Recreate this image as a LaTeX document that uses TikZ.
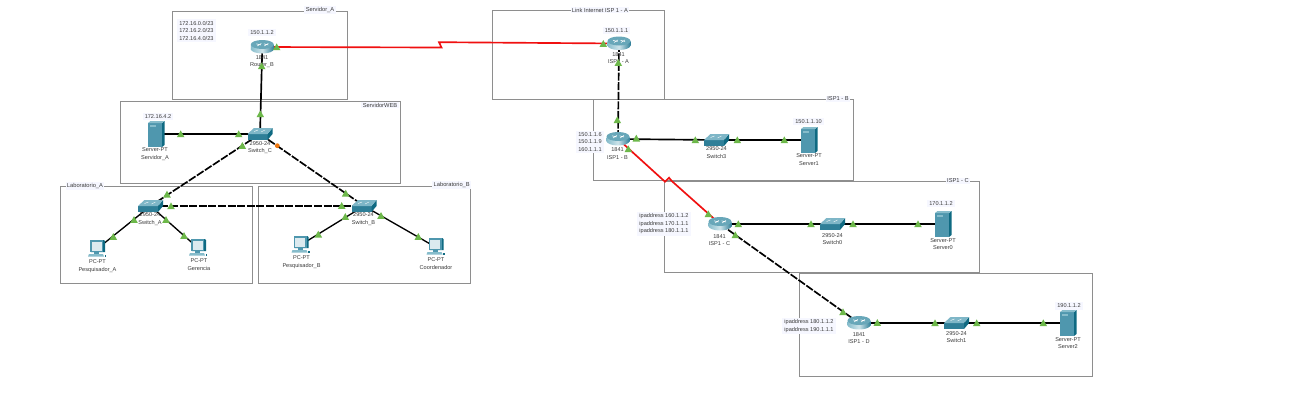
\documentclass[tikz,border=0pt]{standalone}
\usepackage{fontspec}
\setmainfont{Liberation Sans}
\definecolor{boxgray}{HTML}{8E8E8E}
\definecolor{lbl}{HTML}{F6F7FF}
\definecolor{txt}{HTML}{3A3A3A}
\definecolor{teal1}{HTML}{4F97AE}
\definecolor{teal2}{HTML}{0F6A82}
\definecolor{teal3}{HTML}{86BCCB}
\definecolor{teal4}{HTML}{2F7F98}
\definecolor{mkgreen}{HTML}{6DB84A}
\definecolor{orangem}{HTML}{F07810}
\definecolor{redl}{HTML}{F01010}
\tikzset{
  zone/.style={draw=boxgray,line width=.7pt,fill=none},
  zonelbl/.style={fill=lbl,inner sep=1pt,font=\fontsize{4.3}{5}\selectfont,text=txt},
  devtxt/.style={font=\fontsize{4.2}{5.6}\selectfont,text=txt,align=center,inner sep=0pt},
  iplbl/.style={fill=lbl,font=\fontsize{4.2}{5.6}\selectfont,text=txt,align=left,inner sep=1.5pt},
  dev/.style={inner sep=0pt,minimum size=0pt},
  wire/.style={line width=1.25pt,black},
  wired/.style={wire,dash pattern=on 6pt off 1.2pt},
  redw/.style={line width=1.25pt,redl},
  routerpic/.pic={
    \shade[left color=teal3,right color=teal4,middle color=white!60!teal3] (-11.5,-2) rectangle (11.5,2);
    \shade[left color=teal3,right color=teal4,middle color=white!60!teal3] (0,2) ellipse[x radius=11.5,y radius=4.5];
    \fill[teal3!65!teal4] (0,-2.5) ellipse[x radius=11.5,y radius=4.5];
    \draw[white,line width=.4pt] (-6,-3.2)--(-1.5,-2) (1.5,-3.2)--(6,-2) (-5,-1)--(-1,-3.6) (2,-1)--(6,-3.6);
  },
  switchpic/.pic={
    \fill[teal4] (-12.5,0)--(7.5,0)--(7.5,6)--(-12.5,6)--cycle;
    \fill[teal2] (7.5,0)--(12.5,-6)--(12.5,0)--(7.5,6)--cycle;
    \fill[teal3!85!teal1] (-12.5,0)--(-6,-6)--(12.5,-6)--(7.5,0)--cycle;
    \draw[white,line width=.3pt] (-6,-2.5)--(-2,-4) (1,-2)--(5,-4);
  },
  serverpic/.pic={
    \fill[teal1] (-8,-11)--(6,-11)--(6,13)--(-8,13)--cycle;
    \fill[teal2] (6,-11)--(8.5,-13)--(8.5,11)--(6,13)--cycle;
    \fill[teal3] (-8,-11)--(-5.5,-13)--(8.5,-13)--(6,-11)--cycle;
    \fill[teal3] (-6,-9)rectangle(-0.5,-7.5);
  },
  pcpic/.pic={
    \fill[teal2] (-6,-9)--(7,-9)--(8,-8)--(8,3)--(-6,3)--cycle;
    \fill[teal1] (-7,-9)--(6,-9)--(6,3)--(-7,3)--cycle;
    \fill[white!80!teal1] (-5.3,-7.5)rectangle(4.5,1.5);
    \fill[teal1] (-3,3)rectangle(2,5);
    \fill[teal3] (-8,5)--(6,5)--(7,7.5)--(-9,7.5)--cycle;
    \fill[teal2] (7.5,5.5)rectangle(9,8);
  }
}
\newcommand{\tri}[2]{\fill[mkgreen] (#1-3.8,#2+3.2)--(#1,#2-3.6)--(#1+3.8,#2+3.2)--cycle;}
\begin{document}
\begin{tikzpicture}[x=.75pt,y=-.75pt]
\useasboundingbox (0,0) rectangle (1313,415);
\fill[white] (0,0) rectangle (1313,415);
% zones
\draw[zone] (172.7,11.7) rectangle (347,99.3);
\draw[zone] (120,101) rectangle (400.5,183);
\draw[zone] (60.7,186) rectangle (252,283.5);
\draw[zone] (258.5,186) rectangle (470.7,283);
\draw[zone] (492.3,10.3) rectangle (664.7,99.3);
\draw[zone] (593.7,99.3) rectangle (853,180.7);
\draw[zone] (664.7,181) rectangle (979.3,272.3);
\draw[zone] (799.3,273.3) rectangle (1092,376);
\node[zonelbl] (lza) at (320,10) {Servidor\_A};
\node[zonelbl] (lzw) at (380,105) {ServidorWEB};
\node[zonelbl] (lla) at (85,186) {Laboratorio\_A};
\node[zonelbl] (llb) at (451.7,185) {Laboratorio\_B};
\node[zonelbl] (lli) at (600,10) {Link Internet ISP 1 - A};
\node[zonelbl] (lib) at (838,99) {ISP1 - B};
\node[zonelbl] (lic) at (958,181) {ISP1 - C};
% device anchors
\node[dev] (rb) at (262.3,47) {};
\node[dev] (sc) at (260,134) {};
\node[dev] (sva) at (156,134) {};
\node[dev] (swa) at (150.5,206) {};
\node[dev] (swb) at (364,206) {};
\node[dev] (pca) at (97,249) {};
\node[dev] (ger) at (198,248) {};
\node[dev] (pcb) at (300.5,245) {};
\node[dev] (coo) at (435.5,247) {};
\node[dev] (ia) at (619,43.5) {};
\node[dev] (ib) at (618,139) {};
\node[dev] (sw3) at (716.5,140) {};
\node[dev] (sv1) at (809,140) {};
\node[dev] (ic) at (720,224) {};
\node[dev] (sw0) at (832.5,224) {};
\node[dev] (sv0) at (943,224) {};
\node[dev] (id) at (859,323) {};
\node[dev] (sw1) at (956.5,323) {};
\node[dev] (sv2) at (1068,323) {};
\coordinate (za) at (441.5,47.5);
\coordinate (zb) at (439,42.2);
\coordinate (zd) at (665,181.7);
\coordinate (ze) at (669,177.7);
\coordinate (zf) at (671.7,181);
% links
\draw[wire] (rb)--(sc);
\draw[wire] (sva)--(sc);
\draw[wired] (sc)--(swa);
\draw[wired] (sc)--(swb);
\draw[wired] (swa)--(swb);
\draw[wire,line width=1pt] (swa)--(pca);
\draw[wire,line width=1pt] (swa)--(ger);
\draw[wire,line width=1pt] (swb)--(pcb);
\draw[wire,line width=1pt] (swb)--(coo);
\draw[wired] (ia)--(ib);
\draw[wire] (ib)--(sw3);
\draw[wire] (sw3)--(sv1);
\draw[wire] (ic)--(sw0);
\draw[wire] (sw0)--(sv0);
\draw[wired] (ic)--(id);
\draw[wire] (id)--(sw1);
\draw[wire] (sw1)--(sv2);
\draw[redw] (rb)--(za)--(zb)--(ia);
\draw[redw] (ib)--(zd)--(ze)--(zf)--(ic);
% icons
\pic at (rb) {routerpic};
\pic at (ia) {routerpic};
\pic at (ib) {routerpic};
\pic at (ic) {routerpic};
\pic at (id) {routerpic};
\pic at (sc) {switchpic};
\pic at (swa) {switchpic};
\pic at (swb) {switchpic};
\pic at (sw3) {switchpic};
\pic at (sw0) {switchpic};
\pic at (sw1) {switchpic};
\pic at (sva) {serverpic};
\pic at (sv1) {serverpic};
\pic at (sv0) {serverpic};
\pic at (sv2) {serverpic};
\pic at (pca) {pcpic};
\pic at (ger) {pcpic};
\pic at (pcb) {pcpic};
\pic at (coo) {pcpic};
% device labels
\node[devtxt] (trb) at (262,61.5) {1841\\Router\_B};
\node[devtxt] (tsc) at (260,147.5) {2950-24\\Switch\_C};
\node[devtxt] (tsva) at (155,154) {Server-PT\\Servidor\_A};
\node[devtxt] (tswa) at (150,219) {2950-24\\Switch\_A};
\node[devtxt] (tswb) at (363.5,219) {2950-24\\Switch\_B};
\node[devtxt] (tpca) at (97.5,266) {PC-PT\\Pesquisador\_A};
\node[devtxt] (tger) at (199,264.5) {PC-PT\\Gerencia};
\node[devtxt] (tpcb) at (301.5,262) {PC-PT\\Pesquisador\_B};
\node[devtxt] (tcoo) at (436,263.5) {PC-PT\\Coordenador};
\node[devtxt] (tia) at (618.5,58) {1841\\ISP1 - A};
\node[devtxt] (tib) at (617.5,153.5) {1841\\ISP1 - B};
\node[devtxt] (tsw3) at (716.5,152.5) {2950-24\\Switch3};
\node[devtxt] (tsv1) at (809,159.5) {Server-PT\\Server1};
\node[devtxt] (tic) at (719.5,240) {1841\\ISP1 - C};
\node[devtxt] (tsw0) at (832.5,239) {2950-24\\Switch0};
\node[devtxt] (tsv0) at (943,244) {Server-PT\\Server0};
\node[devtxt] (tid) at (859,338) {1841\\ISP1 - D};
\node[devtxt] (tsw1) at (956.5,337) {2950-24\\Switch1};
\node[devtxt] (tsv2) at (1068,343) {Server-PT\\Server2};
% address labels
\node[iplbl] (a1) at (262,32.5) {150.1.1.2};
\node[iplbl,anchor=north west] (a2) at (177,19) {172.16.0.0/23\\172.16.2.0/23\\172.16.4.0/23};
\node[iplbl] (a3) at (158,116.5) {172.16.4.2};
\node[iplbl] (a4) at (616.5,30.5) {150.1.1.1};
\node[iplbl] (a5) at (590,142) {150.1.1.6\\150.1.1.9\\160.1.1.1};
\node[iplbl] (a6) at (808.5,121.5) {150.1.1.10};
\node[iplbl] (a7) at (664,224) {ipaddress 160.1.1.2\\ipaddress 170.1.1.1\\ipaddress 180.1.1.1};
\node[iplbl] (a8) at (941,203.5) {170.1.1.2};
\node[iplbl] (a9) at (809,326) {ipaddress 180.1.1.2\\ipaddress 190.1.1.1};
\node[iplbl] (a10) at (1069,306) {190.1.1.2};
% link markers
\tri{276.7}{47}\tri{261.7}{66}\tri{260.3}{114}\tri{180.7}{134}\tri{238.7}{134}\tri{242.3}{145.7}
\fill[orangem] (277.3,145.7) circle[radius=2.4];
\tri{167}{194.3}\tri{171}{206}\tri{134}{219.7}\tri{166}{219.7}\tri{113.3}{236.7}\tri{184}{235.7}
\tri{345.7}{193.3}\tri{341.7}{205.7}\tri{345.3}{216.7}\tri{381}{215.7}\tri{318.3}{234.3}\tri{418.3}{236.7}
\tri{603.3}{43.7}\tri{618.3}{62.7}\tri{617.3}{120}\tri{636.3}{138.3}\tri{628.3}{149}\tri{695.3}{140}\tri{737.3}{140}\tri{784.3}{140}
\tri{708.3}{214}\tri{738.3}{224}\tri{735.3}{235}\tri{811}{224}\tri{853}{224}\tri{918}{224}
\tri{843}{312}\tri{877.3}{322.7}\tri{935}{323}\tri{976.7}{323}\tri{1043.3}{323}
\end{tikzpicture}
\end{document}
